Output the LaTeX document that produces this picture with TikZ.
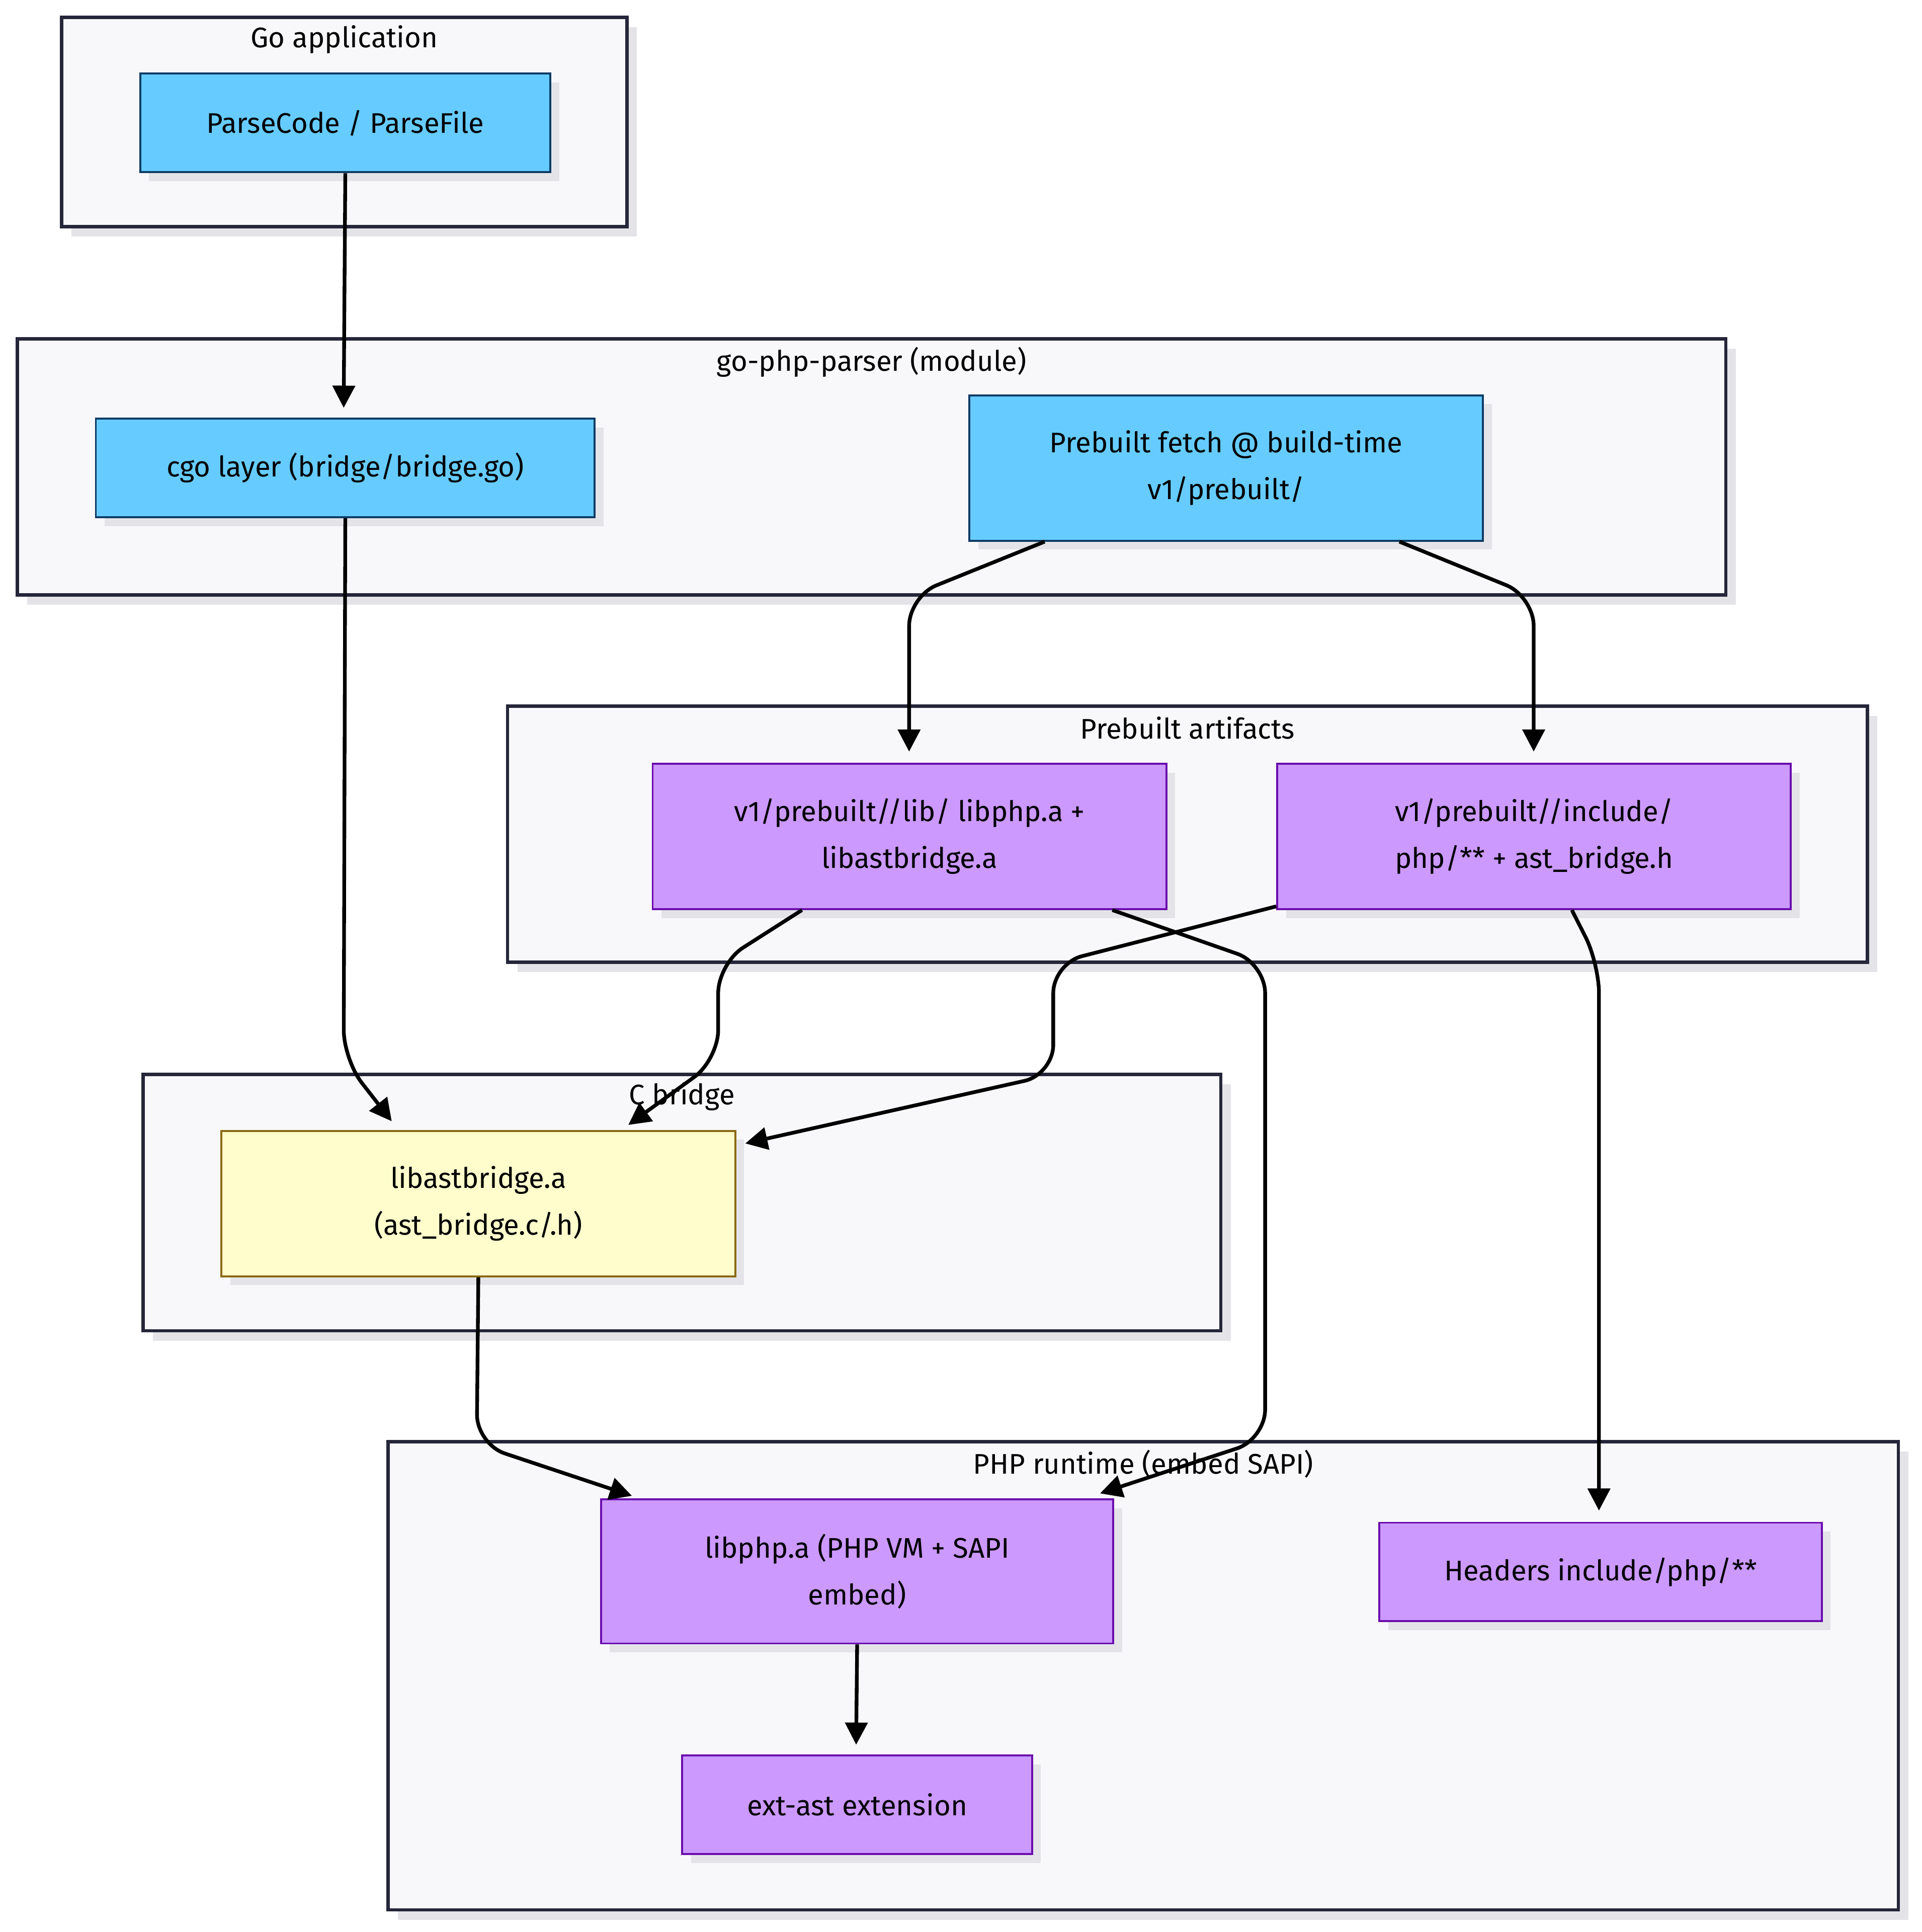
\documentclass[tikz,border=0pt]{standalone}
\usepackage{fontspec}
\setmainfont{Fira Sans}
\usetikzlibrary{arrows.meta,calc}
\definecolor{bluef}{HTML}{66CCFF}\definecolor{blueb}{HTML}{0D3B66}
\definecolor{purf}{HTML}{CC99FF}\definecolor{purb}{HTML}{6A0DAD}
\definecolor{yelf}{HTML}{FFFDCC}\definecolor{yelb}{HTML}{8B6914}
\definecolor{clf}{HTML}{F8F8FA}\definecolor{clb}{HTML}{26263A}
\definecolor{shd}{HTML}{E4E4E8}
\begin{document}
\begin{tikzpicture}[x=0.5pt,y=-0.5pt,
  every node/.style={font=\fontsize{11.5}{19}\selectfont,align=center,inner sep=0},
  cl/.style={draw=clb,fill=clf,line width=1.4pt},
  bx/.style={line width=0.8pt},
  blue/.style={bx,draw=blueb,fill=bluef},
  pur/.style={bx,draw=purb,fill=purf},
  yel/.style={bx,draw=yelb,fill=yelf},
  ar/.style={line width=1.5pt,rounded corners=12pt,-{Triangle[length=9pt,width=9pt]}}]
\useasboundingbox (0,0) rectangle (1560,1568);
% clusters
\newcommand{\clu}[5]{\fill[shd] (#1+8,#2+8) rectangle (#3+8,#4+8); \draw[cl] (#1,#2) rectangle (#3,#4);}
\clu{50}{14}{509}{184}{}
\node (t1) at (279.5,32) {Go application};
\clu{14}{275}{1401}{483}{}
\node (t2) at (707.5,294) {go-php-parser (module)};
\clu{412}{573}{1516}{781}{}
\node (t3) at (964,591) {Prebuilt artifacts};
\clu{116}{872}{991}{1080}{}
\clu{315}{1170}{1541}{1550}{}
% boxes
\newcommand{\bxx}[7]{\fill[shd] (#2+8,#3+8) rectangle (#4+8,#5+8);
  \node[#6,anchor=north west,minimum width=(#4-#2)*0.5pt,minimum height=(#5-#3)*0.5pt] (#1) at (#2,#3) {#7};}
\bxx{pc}{113}{59}{446}{139}{blue}{ParseCode / ParseFile}
\bxx{cgo}{77}{339}{482}{419}{blue}{cgo layer (bridge/bridge.go)}
\bxx{fetch}{786}{320}{1203}{438}{blue}{Prebuilt fetch @ build-time\\v1/prebuilt/}
\bxx{lib}{529}{619}{946}{737}{pur}{v1/prebuilt//lib/ libphp.a +\\libastbridge.a}
\bxx{inc}{1036}{619}{1453}{737}{pur}{v1/prebuilt//include/\\php/** + ast\_bridge.h}
\bxx{lab}{179}{917}{596}{1035}{yel}{libastbridge.a\\(ast\_bridge.c/.h)}
\bxx{php}{487}{1216}{903}{1333}{pur}{libphp.a (PHP VM + SAPI\\embed)}
\bxx{hdr}{1119}{1235}{1478}{1315}{pur}{Headers include/php/**}
\bxx{ext}{553}{1424}{837}{1504}{pur}{ext-ast extension}
% edges
\draw[ar] (pc.south) -- (279,331);
\draw[ar] (cgo.south) -- (279,860) -- (318,910);
\draw[ar] ($(fetch.south west)+(62,0)$) -- (738,484) -- (738,610);
\draw[ar] ($(fetch.south west)+(350,0)$) -- (1245,484) -- (1245,610);
\draw[ar] ($(lib.south west)+(122,0)$) -- (583,782) -- (583,860) -- (510,913);
\draw[ar] ($(lib.south west)+(374,0)$) -- (1027,782) -- (1027,1168) -- (893,1212);
\draw[ar] ($(inc.south west)+(0,-3)$) -- (855,782) -- (855,872) -- (605,928);
\draw[ar] ($(inc.south west)+(240,0)$) -- (1298,782) -- (1298,1226);
\draw[ar] (lab.south) -- (387,1172) -- (513,1214);
\draw[ar] (php.south) -- (695,1416);
% title drawn after edges
\node (t4) at (553.5,890) {C bridge};
\node (t5) at (928,1188) {PHP runtime (embed SAPI)};
\end{tikzpicture}
\end{document}
